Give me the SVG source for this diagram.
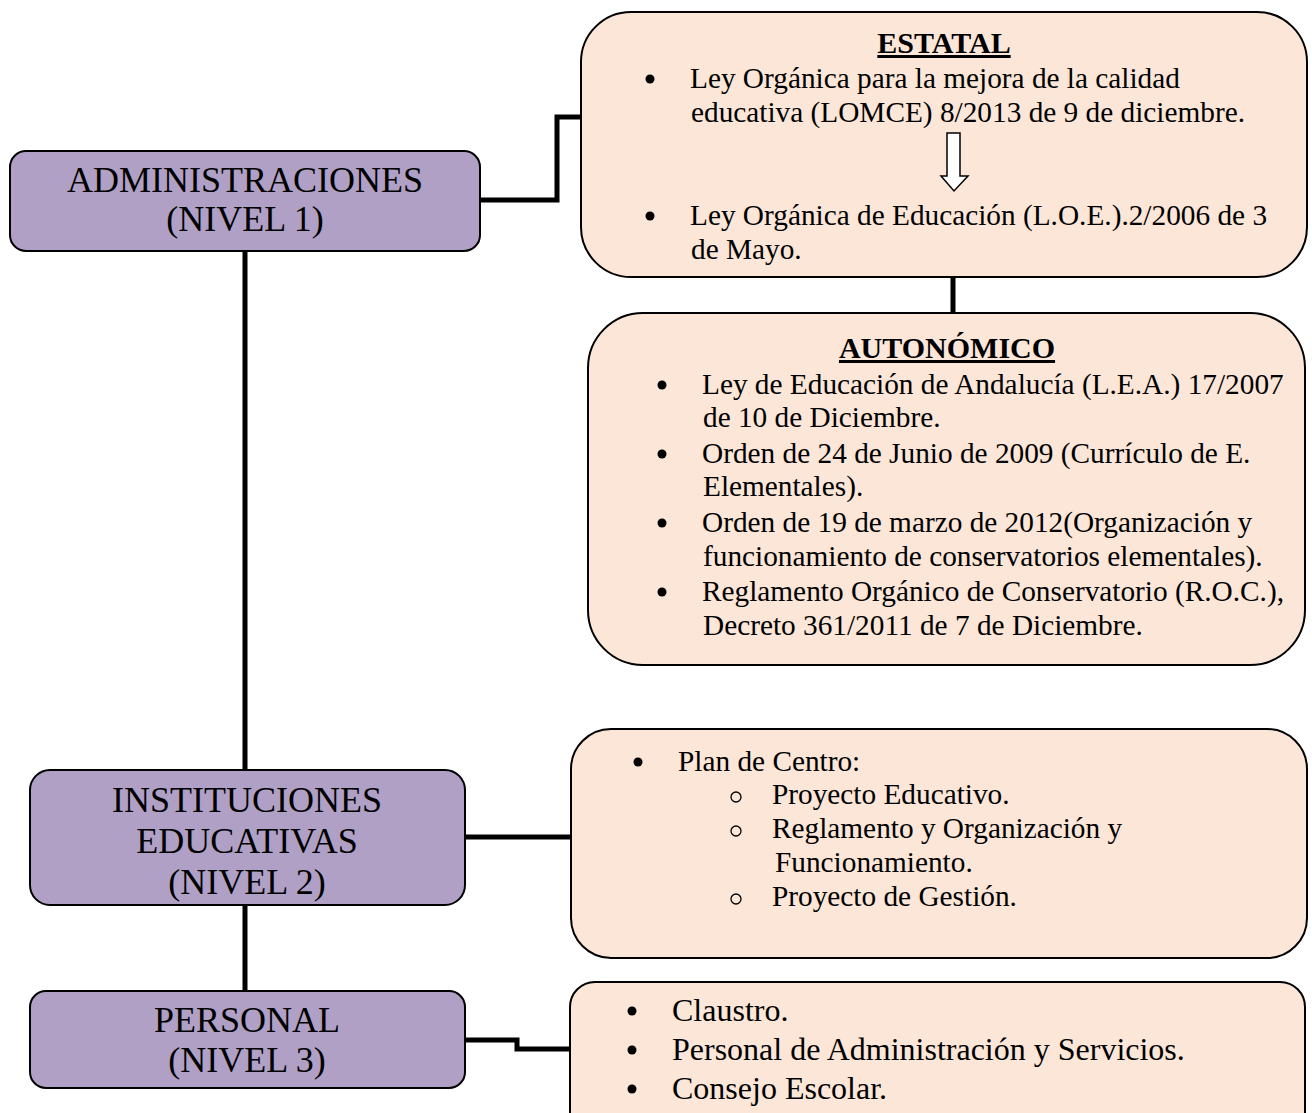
<svg xmlns="http://www.w3.org/2000/svg" width="1312" height="1113" viewBox="0 0 1312 1113">
<style>
.lvl{fill:#B0A0C6;stroke:#000;stroke-width:2}
.box{fill:#FCE6D8;stroke:#000;stroke-width:2}
.nt{font-family:"Liberation Serif","Times New Roman",serif;font-size:36px;fill:#000;text-anchor:middle}
.t{font-family:"Liberation Serif","Times New Roman",serif;font-size:29.3px;fill:#000}
.tb{font-family:"Liberation Serif","Times New Roman",serif;font-size:32px;fill:#000}
.h{font-family:"Liberation Serif","Times New Roman",serif;font-size:30px;font-weight:bold;fill:#000;text-anchor:middle;text-decoration:underline}
.con{fill:none;stroke:#000;stroke-width:5}
</style>
<rect width="1312" height="1113" fill="#fff"/>
<g id="connectors">
<polyline class="con" points="480,200 557,200 557,117 582,117"/>
<line class="con" x1="953" y1="277" x2="953" y2="314"/>
<line class="con" x1="245" y1="251" x2="245" y2="771"/>
<line class="con" x1="465" y1="837" x2="572" y2="837"/>
<line class="con" x1="245" y1="905" x2="245" y2="991"/>
<polyline class="con" points="465,1040 517,1040 517,1049 571,1049"/>
</g>
<g id="n-admin">
<rect class="lvl" x="10" y="151" width="470" height="100" rx="16"/>
<text class="nt" x="245" y="192">ADMINISTRACIONES</text>
<text class="nt" x="245" y="231">(NIVEL 1)</text>
</g>
<g id="n-estatal">
<rect class="box" x="581" y="12" width="726" height="265" rx="50"/>
<text class="h" x="944" y="53">ESTATAL</text>
<circle cx="650" cy="79" r="4.5"/>
<text class="t" x="690" y="88">Ley Orgánica para la mejora de la calidad</text>
<text class="t" x="691" y="122">educativa (LOMCE) 8/2013 de 9 de diciembre.</text>
<path d="M947,133 H960 V176 H968 L954,191 L941,176 H947 Z" fill="#fff" stroke="#000" stroke-width="1.5"/>
<circle cx="650" cy="216" r="4.5"/>
<text class="t" x="690" y="225">Ley Orgánica de Educación (L.O.E.).2/2006 de 3</text>
<text class="t" x="691" y="259">de Mayo.</text>
</g>
<g id="n-autonomico">
<rect class="box" x="588" y="313" width="717" height="352" rx="55"/>
<text class="h" x="947" y="358">AUTONÓMICO</text>
<circle cx="662" cy="385" r="4.5"/>
<text class="t" x="702" y="394">Ley de Educación de Andalucía (L.E.A.) 17/2007</text>
<text class="t" x="703" y="427">de 10 de Diciembre.</text>
<circle cx="662" cy="454" r="4.5"/>
<text class="t" x="702" y="463">Orden de 24 de Junio de 2009 (Currículo de E.</text>
<text class="t" x="703" y="496">Elementales).</text>
<circle cx="662" cy="523" r="4.5"/>
<text class="t" x="702" y="532">Orden de 19 de marzo de 2012(Organización y</text>
<text class="t" x="703" y="566">funcionamiento de conservatorios elementales).</text>
<circle cx="662" cy="592" r="4.5"/>
<text class="t" x="702" y="601">Reglamento Orgánico de Conservatorio (R.O.C.),</text>
<text class="t" x="703" y="635">Decreto 361/2011 de 7 de Diciembre.</text>
</g>
<g id="n-instituciones">
<rect class="lvl" x="30" y="770" width="435" height="135" rx="20"/>
<text class="nt" x="247" y="812">INSTITUCIONES</text>
<text class="nt" x="247" y="853">EDUCATIVAS</text>
<text class="nt" x="247" y="894">(NIVEL 2)</text>
</g>
<g id="n-plan">
<rect class="box" x="571" y="729" width="736" height="229" rx="40"/>
<circle cx="638" cy="762" r="4.5"/>
<text class="t" x="678" y="771">Plan de Centro:</text>
<circle cx="736" cy="797" r="5" fill="none" stroke="#000" stroke-width="1.3"/>
<text class="t" x="772" y="804">Proyecto Educativo.</text>
<circle cx="736" cy="831" r="5" fill="none" stroke="#000" stroke-width="1.3"/>
<text class="t" x="772" y="838">Reglamento y Organización y</text>
<text class="t" x="775" y="872">Funcionamiento.</text>
<circle cx="736" cy="899" r="5" fill="none" stroke="#000" stroke-width="1.3"/>
<text class="t" x="772" y="906">Proyecto de Gestión.</text>
</g>
<g id="n-personal">
<rect class="lvl" x="30" y="991" width="435" height="97" rx="16"/>
<text class="nt" x="247" y="1032">PERSONAL</text>
<text class="nt" x="247" y="1072">(NIVEL 3)</text>
</g>
<g id="n-claustro">
<rect class="box" x="570" y="982" width="735" height="160" rx="25"/>
<circle cx="632" cy="1011" r="4.5"/>
<text class="tb" x="672" y="1021">Claustro.</text>
<circle cx="632" cy="1050" r="4.5"/>
<text class="tb" x="672" y="1060">Personal de Administración y Servicios.</text>
<circle cx="632" cy="1089" r="4.5"/>
<text class="tb" x="672" y="1099">Consejo Escolar.</text>
</g>
</svg>
